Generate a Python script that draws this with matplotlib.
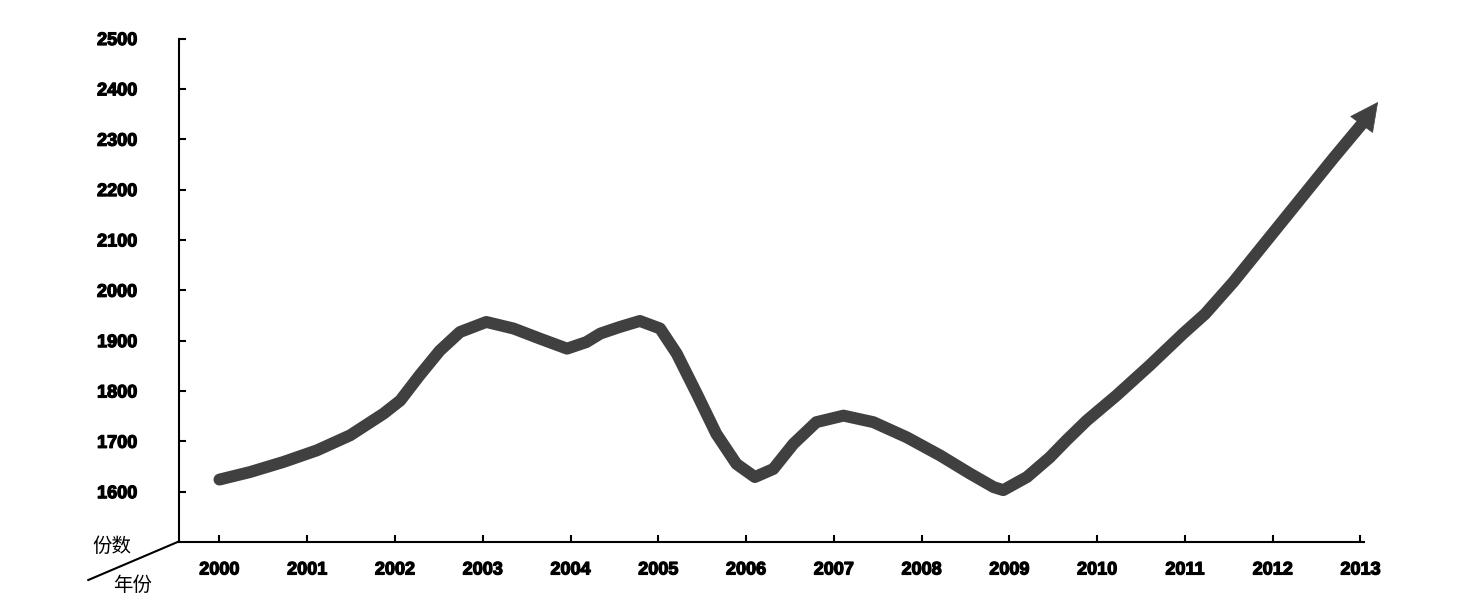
import matplotlib
matplotlib.use("Agg")
import matplotlib.pyplot as plt
from matplotlib.lines import Line2D
import matplotlib.patheffects as pe

# Values (x in years, y in 份数)
curve_x = [2000.0, 2000.35, 2000.73, 2001.11, 2001.49, 2001.87, 2002.06, 2002.28,
           2002.51, 2002.74, 2003.04, 2003.35, 2003.65, 2003.96, 2004.18, 2004.34,
           2004.56, 2004.79, 2005.02, 2005.21, 2005.44, 2005.66, 2005.89, 2006.10,
           2006.31, 2006.54, 2006.80, 2007.11, 2007.45, 2007.83, 2008.21, 2008.55,
           2008.82, 2008.93, 2009.20, 2009.46, 2009.65, 2009.88, 2010.22, 2010.60,
           2010.98, 2011.23, 2011.55, 2011.93, 2012.31, 2012.69, 2013.02]
curve_y = [1624, 1639, 1659, 1682, 1712, 1755, 1781, 1831,
           1880, 1917, 1937, 1924, 1904, 1884, 1897, 1914,
           1927, 1939, 1924, 1874, 1794, 1715, 1655, 1629,
           1645, 1695, 1738, 1751, 1738, 1708, 1672, 1636,
           1609, 1603, 1629, 1668, 1702, 1741, 1791, 1851,
           1914, 1953, 2016, 2098, 2180, 2262, 2331]
arrow_tip = (2013.20, 2374)
years = list(range(2000, 2014))
year_labels = [str(y) for y in years]
yticks = list(range(1600, 2600, 100))
ytick_labels = [str(v) for v in yticks]
xlabel_txt = "年份"
ylabel_txt = "份数"

color = "#404040"
fig = plt.figure(figsize=(14.78, 6.10), dpi=100)
ax = fig.add_axes([179/1478, 1-542/610, (1364-179)/1478, (542-38.5)/610])
ax.set_xlim(1999.539, 2013.04)
ax.set_ylim(1500, 2500)

ax.plot(curve_x, curve_y, color=color, lw=8.6, solid_capstyle="round",
        solid_joinstyle="round", clip_on=False)
ax.annotate("", xy=arrow_tip, xytext=(curve_x[-1], curve_y[-1]),
            annotation_clip=False,
            arrowprops=dict(arrowstyle="-|>,head_length=1.0,head_width=0.5",
                            color=color, lw=0.5, shrinkA=0, shrinkB=0,
                            mutation_scale=19.5))

for s in ["top", "right"]:
    ax.spines[s].set_visible(False)
for s in ["left", "bottom"]:
    ax.spines[s].set_linewidth(1.5)
    ax.spines[s].set_color("black")

ax.set_xticks(years)
ax.set_xticklabels(year_labels)
ax.set_yticks(yticks)
ax.set_yticklabels(ytick_labels)
ax.tick_params(axis="both", direction="in", length=5, width=1.5, color="black")
ax.tick_params(axis="x", pad=14)
ax.tick_params(axis="y", pad=30)
for lab in ax.get_xticklabels() + ax.get_yticklabels():
    lab.set_fontfamily(["Liberation Sans", "DejaVu Sans"])
    lab.set_fontweight("bold")
    lab.set_fontsize(13)
    lab.set_path_effects([pe.withStroke(linewidth=0.9, foreground="black")])

fig.add_artist(Line2D([88.3/1478, 178.3/1478], [1-580/610, 1-541.7/610],
                      transform=fig.transFigure, color="black", lw=1.5))
fig.text(111.7/1478, 1-546.7/610, ylabel_txt, ha="center", va="center",
         fontsize=14, family=["Noto Sans CJK SC", "DejaVu Sans"])
fig.text(133/1478, 1-585/610, xlabel_txt, ha="center", va="center",
         fontsize=14, family=["Noto Sans CJK SC", "DejaVu Sans"])

fig.savefig("out.png", dpi=100, facecolor="white")
